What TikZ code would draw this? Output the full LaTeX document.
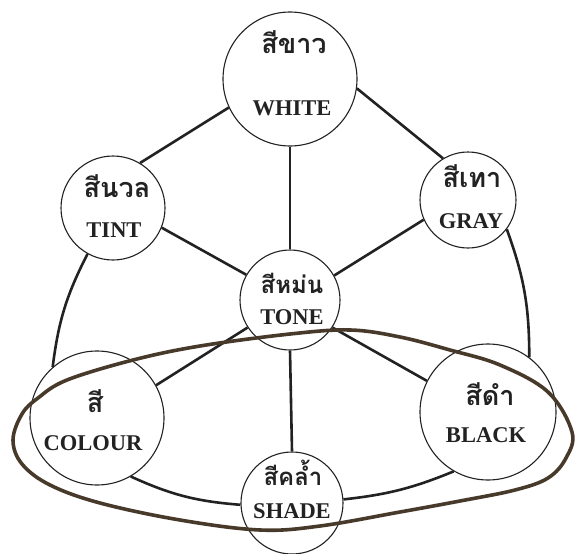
\documentclass[tikz,border=0pt]{standalone}
\usepackage{fontspec}
\setmainfont{Liberation Serif}
\newfontfamily\thaifont[Script=Thai]{Loma}
\definecolor{ringbrown}{RGB}{72,58,42}
\definecolor{ink}{RGB}{34,34,34}
\begin{document}
\begin{tikzpicture}[x=1pt,y=-1pt,
  circ/.style={circle,draw=ink,line width=1.1pt,fill=white,inner sep=0pt},
  conn/.style={draw=ink,line width=2.6pt},
  ring/.style={draw=ringbrown,line width=3.6pt},
  th/.style={font=\thaifont\bfseries\fontsize{27}{29}\selectfont,anchor=base,inner sep=0pt,text depth=0pt,text=ink},
  thsmall/.style={th,font=\thaifont\bfseries\fontsize{24}{26}\selectfont},
  en/.style={font=\bfseries\fontsize{22.5}{24}\selectfont,anchor=base,inner sep=0pt,text height=15pt,text=ink}]
\useasboundingbox (0,0) rectangle (581,554);
% circles (named)
\node[circ,minimum size=134pt] (white) at (290,79) {};
\node[circ,minimum size=104pt] (tint) at (113,208) {};
\node[circ,minimum size=96pt] (gray) at (468,200) {};
\node[circ,minimum size=100pt] (tone) at (290,300) {};
\node[circ,minimum size=134pt] (colour) at (97,418) {};
\node[circ,minimum size=136pt] (black) at (488,412) {};
\node[circ,minimum size=102pt] (shade) at (292,503) {};
% connectors
\draw[conn] (white.205) -- (tint.59);
\draw[conn] (white.352) -- (gray.121);
\draw[conn] (white.270) -- (tone.90);
\draw[conn] (tint.338) -- (tone.150);
\draw[conn] (gray.204) -- (tone.29);
\draw[conn] (tone.213) -- (colour.29);
\draw[conn] (tone.327) -- (black.153);
\draw[conn] (tone.270) -- (shade.90);
\draw[conn] (tint.241) to[bend right=10] (colour.131);
\draw[conn] (gray.323) to[bend left=10] (black.53);
\draw[conn] (colour.300) to[bend right=10] (shade.182);
\draw[conn] (black.240) to[bend left=8] (shade.4);
% texts
\node[th] (white-th) at (294,53) {สีขาว};
\node[en] (white-en) at (292,115) {WHITE};
\node[th] (tint-th) at (117,197) {สีนวล};
\node[en] (tint-en) at (114,237) {TINT};
\node[th] (gray-th) at (472,187) {สีเทา};
\node[en] (gray-en) at (471,228) {GRAY};
\node[thsmall] (tone-th) at (292,293) {สีหม่น};
\node[en] (tone-en) at (292,324) {TONE};
\node[th] (colour-th) at (95,412) {สี};
\node[en] (colour-en) at (93,450) {COLOUR};
\node[th] (black-th) at (490,405) {สีดำ};
\node[en] (black-en) at (486,442) {BLACK};
\node[thsmall] (shade-th) at (293,485) {สีคล้ำ};
\node[en] (shade-en) at (292,518) {SHADE};
% brown ring
\draw[ring] plot[smooth cycle,tension=0.6] coordinates {
 (13,440) (22,414) (38,398) (67,380) (133,360) (200,346) (290,334) (350,330)
 (400,337) (450,350) (500,365) (548,392) (572,432) (566,458) (548,478)
 (515,490) (460,501) (400,512) (320,526) (260,530) (180,520) (100,503)
 (50,485) (22,464)};
\end{tikzpicture}
\end{document}
